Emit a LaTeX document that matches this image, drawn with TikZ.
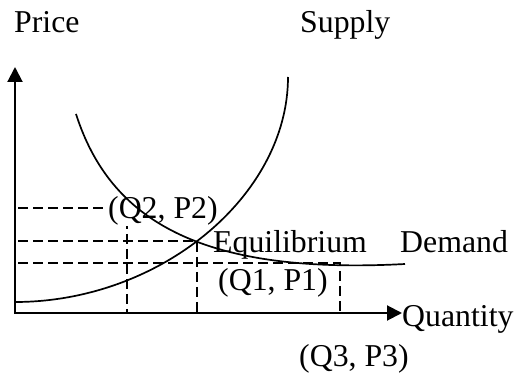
\documentclass[tikz,border=0pt]{standalone}
\usepackage{fontspec}
\setmainfont{Liberation Serif}
\usetikzlibrary{arrows.meta}
\begin{document}
\begin{tikzpicture}[x=1pt,y=-1pt,
  lbl/.style={anchor=base west,inner sep=0pt,font=\fontsize{31.8}{36}\selectfont},
  wlbl/.style={lbl,fill=white},
  axis/.style={line width=2pt,-{Triangle[length=15pt,width=15pt]}},
  guide/.style={line width=2.2pt,dash pattern=on 10pt off 5pt},
  curve/.style={line width=1.7pt}]
\useasboundingbox (0,0) rectangle (515,374);
% key points
\coordinate (O) at (15,313);
\coordinate (Ytip) at (15,67);
\coordinate (Xtip) at (402,313);
\coordinate (E) at (197,241);
\coordinate (P2) at (127,208);
\coordinate (P3) at (340,263);
% guide lines
\draw[guide] (18,208) -- (P2) -- (127,313);
\draw[guide] (18,241) -- (E) -- (197,313);
\draw[guide] (18,263) -- (P3) -- (340,313);
% labels
\node[lbl] (price) at (14,33) {Price};
\node[lbl] (supply) at (300,33) {Supply};
\node[wlbl] (q2) at (108,219) {(Q2, P2)};
\node[lbl] (eq) at (213,253) {Equilibrium};
\node[lbl] (dem) at (400,253) {Demand};
\node[lbl] (q1) at (218,291) {(Q1, P1)};
\node[lbl] (qty) at (402,327) {Quantity};
\node[lbl] (q3) at (299,367) {(Q3, P3)};
% curves
\draw[curve] (15,302) .. controls (160,302) and (288,196) .. (288,77);
\draw[curve] (76,114) .. controls (110,220) and (200,275) .. (405,264);
% axes
\draw[axis] (15,314) -- (Ytip);
\draw[axis] (14,313) -- (Xtip);
\end{tikzpicture}
\end{document}
